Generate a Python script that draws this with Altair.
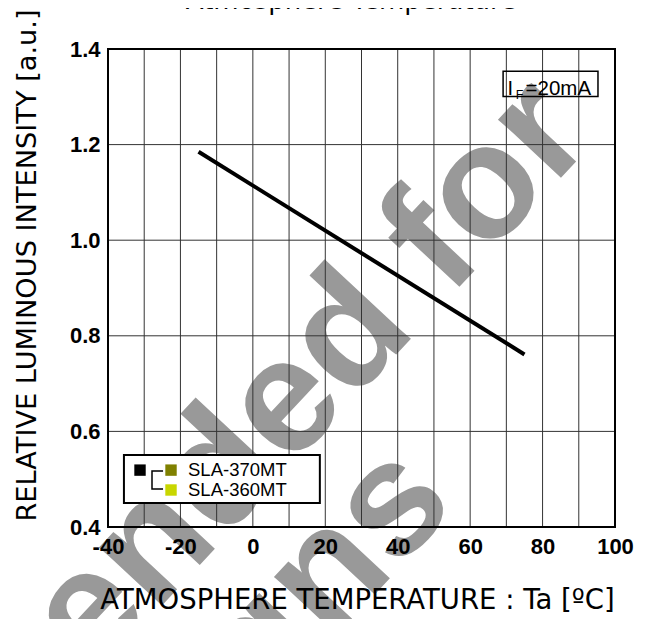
import altair as alt
import pandas as pd

# ---- data ----
temps = [-15, 75]
intensity = [1.185, 0.761]

x_ticks = [-40, -20, 0, 20, 40, 60, 80, 100]
y_ticks = [0.4, 0.6, 0.8, 1.0, 1.2, 1.4]
x_grid = [-30, -20, -10, 0, 10, 20, 30, 40, 50, 60, 70, 80, 90]
y_grid = [0.6, 0.8, 1.0, 1.2]

legend_names = ["SLA-370MT", "SLA-360MT"]
legend_colors = ["#7f8000", "#c8d600"]

title_text = "Atmosphere Temperature"
x_title = "ATMOSPHERE TEMPERATURE : Ta [ºC]"
y_title = "RELATIVE LUMINOUS INTENSITY [a.u.]"
watermark = ["Not recommended for", "new designs"]

# ---- shared scales / axes ----
xs = alt.Scale(domain=[-40, 100], nice=False, zero=False)
ys = alt.Scale(domain=[0.4, 1.4], nice=False, zero=False)

x_axis = alt.Axis(
    values=x_ticks, grid=False, ticks=False, domain=False,
    labelFont="Liberation Sans", labelFontWeight="bold", labelFontSize=22,
    labelColor="black", labelPadding=9, labelFlush=False, labelOverlap=False,
    labelExpr="toString(datum.value)",
    title=x_title, titleFont="DejaVu Sans", titleFontSize=27.5,
    titleFontWeight="normal", titleColor="black",
    titleX=249, titleY=81, titleBaseline="alphabetic", titleAlign="center",
    zindex=1,
)
y_axis = alt.Axis(
    values=y_ticks, grid=False, ticks=False, domain=False, format=".1f",
    labelFont="Liberation Sans", labelFontWeight="bold", labelFontSize=22,
    labelColor="black", labelPadding=8, labelFlush=False, labelOverlap=False,
    title=y_title, titleFont="DejaVu Sans", titleFontSize=27.2,
    titleFontWeight="normal", titleColor="black",
    titleAngle=270, titleX=-73, titleY=216, titleBaseline="alphabetic",
    titleAlign="center",
    zindex=1,
)


def X(f="x"):
    return alt.X(f"{f}:Q", scale=xs, axis=x_axis)


def Y(f="y"):
    return alt.Y(f"{f}:Q", scale=ys, axis=y_axis)


def text_layer(xv, yv, t, **kw):
    return alt.Chart(pd.DataFrame({"x": [xv], "y": [yv], "t": [t]})).mark_text(**kw).encode(
        x=X(), y=Y(), text="t:N"
    )


# ---- watermark (behind everything) ----
wm_style = dict(align="right", baseline="alphabetic", angle=313, font="Liberation Sans",
                fontWeight="bold", fontSize=162, color="#999999")
wm1 = text_layer(94.8, 1.2096, watermark[0], **wm_style)
wm2 = text_layer(56.7, 0.446, watermark[1], **wm_style)

# ---- grid ----
vgrid = alt.Chart(pd.DataFrame({"x": x_grid})).mark_rule(
    color="#333333", strokeWidth=1
).encode(x=X())
hgrid = alt.Chart(pd.DataFrame({"y": y_grid})).mark_rule(
    color="#333333", strokeWidth=1
).encode(y=Y())

# ---- data line ----
line = alt.Chart(pd.DataFrame({"x": temps, "y": intensity})).mark_line(
    color="black", strokeWidth=4
).encode(x=X(), y=Y())

# ---- legend box ----
leg_box = alt.Chart(pd.DataFrame({"x": [-35.6], "x2": [18.5], "y": [0.5506], "y2": [0.450]})).mark_rect(
    fill="white", stroke="black", strokeWidth=2
).encode(x=X(), x2="x2:Q", y=Y(), y2="y2:Q")
leg_black = alt.Chart(pd.DataFrame({"x": [-31.16], "y": [0.519]})).mark_square(
    size=130, color="black", opacity=1
).encode(x=X(), y=Y())
leg_sq = alt.Chart(pd.DataFrame({"x": [-22.6, -22.6], "y": [0.519, 0.4774], "c": legend_colors})).mark_square(
    size=130, opacity=1
).encode(x=X(), y=Y(), color=alt.Color("c:N", scale=None))
bracket = alt.Chart(pd.DataFrame({
    "x": [-24.8, -27.85, -27.85, -24.8], "y": [0.517, 0.517, 0.4795, 0.4795], "o": [0, 1, 2, 3]
})).mark_line(color="black", strokeWidth=1.5).encode(x=X(), y=Y(), order="o:O")
leg_text = alt.Chart(pd.DataFrame({"x": [-17.9, -17.9], "y": [0.5067, 0.4649], "t": legend_names})).mark_text(
    align="left", baseline="alphabetic", font="Liberation Sans", fontSize=18.5, color="black"
).encode(x=X(), y=Y(), text="t:N")

# ---- IF box ----
if_box = alt.Chart(pd.DataFrame({"x": [69.1], "x2": [95.3], "y": [1.3535], "y2": [1.3007]})).mark_rect(
    fill=None, filled=False, stroke="black", strokeWidth=1.5
).encode(x=X(), x2="x2:Q", y=Y(), y2="y2:Q")
if_i = text_layer(70.3, 1.3038, "I", align="left", baseline="alphabetic",
                  font="Liberation Sans", fontSize=20, color="black")
if_f = text_layer(72.6, 1.2955, "F", align="left", baseline="alphabetic",
                  font="Liberation Sans", fontSize=12.5, color="black")
if_rest = text_layer(75.3, 1.3038, "=20mA", align="left", baseline="alphabetic",
                     font="Liberation Sans", fontSize=20.5, color="black")

# ---- chart title (cut at the top, as in the reference) ----
title_mark = text_layer(-40, 1.4, title_text, align="center", baseline="alphabetic",
                        font="DejaVu Sans", fontSize=26, color="black", dx=243, dy=-40)

# ---- frame ----
frame = alt.Chart(pd.DataFrame({"x": [-40], "x2": [100], "y": [0.4], "y2": [1.4]})).mark_rect(
    fill=None, filled=False, stroke="black", strokeWidth=2
).encode(x=X(), x2="x2:Q", y=Y(), y2="y2:Q")

chart = alt.layer(
    wm1, wm2, vgrid, hgrid, line, leg_box, leg_black, leg_sq, bracket, leg_text,
    if_box, if_i, if_f, if_rest, title_mark, frame
).properties(
    width=507, height=478,
    padding={"left": 100, "top": 41, "right": 27, "bottom": 92},
    autosize=alt.AutoSizeParams(type="none"),
).configure_view(stroke=None).configure(background="white")

chart.save("out.html", embed_options={"renderer": "svg", "actions": False})
